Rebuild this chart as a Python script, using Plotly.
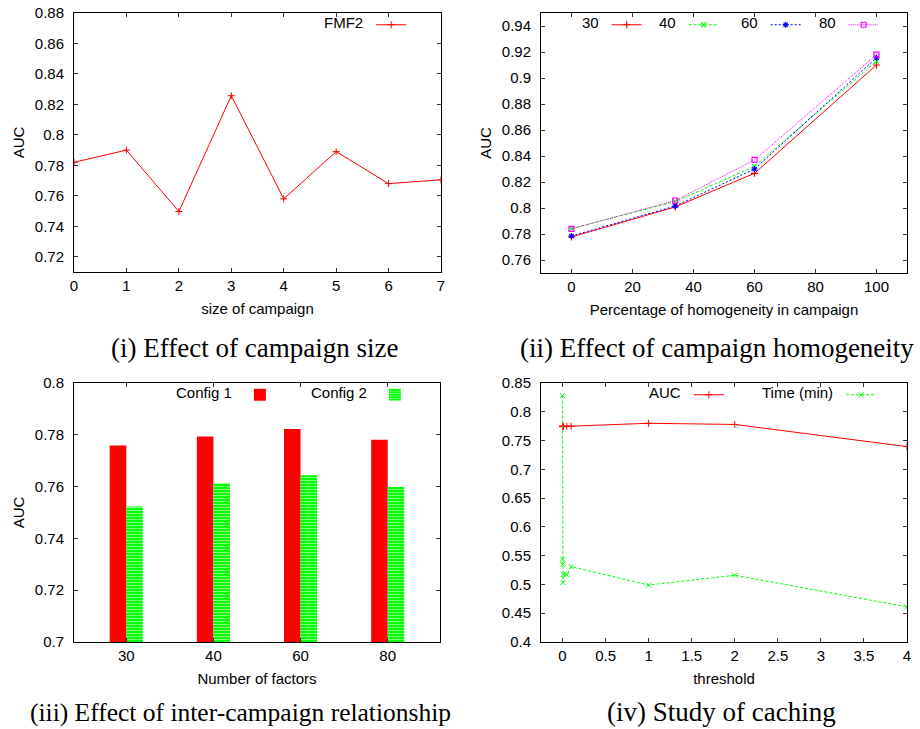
import plotly.graph_objects as go

# ---------------- data ----------------
campaign_size = [0, 1, 2, 3, 4, 5, 6, 7]
auc_size = [0.782, 0.790, 0.7497, 0.8257, 0.758, 0.789, 0.768, 0.7705]

homogeneity = [0, 34, 60, 100]
auc_h30 = [0.7777, 0.8008, 0.8267, 0.910]
auc_h40 = [0.7841, 0.8050, 0.8320, 0.913]
auc_h60 = [0.7785, 0.8015, 0.8300, 0.9156]
auc_h80 = [0.7840, 0.8057, 0.8370, 0.918]

factors = ["30", "40", "60", "80"]
config1 = [0.7759, 0.7793, 0.7822, 0.7781]
config2 = [0.7523, 0.7613, 0.7644, 0.7598]

thresholds = [0, 0.0001, 0.001, 0.005, 0.01, 0.05, 0.1, 1, 2, 4]
auc_cache = [0.775, 0.7745, 0.775, 0.774, 0.7745, 0.7748, 0.775, 0.780, 0.778, 0.7395]
time_cache = [0.828, 0.544, 0.535, 0.5035, 0.5175, 0.517, 0.531, 0.499, 0.516, 0.461]

captions = ["(i) Effect of campaign size", "(ii) Effect of campaign homogeneity",
            "(iii) Effect of inter-campaign relationship", "(iv) Study of caching"]

# ---------------- layout helpers ----------------
W, H = 920, 729
SANS = "Liberation Sans, Arial, sans-serif"
SERIF = "Liberation Serif, Times New Roman, serif"
RED, GREEN, BLUE, MAG = "#ff0000", "#00ff00", "#0000ff", "#ff00ff"


def px(x):
    return x / W


def py(y):
    return 1 - y / H


def xd(l, r):
    return [px(l), px(r)]


def yd(t, b):
    return [py(b), py(t)]


def axis(domain, anchor, rng, dtick, title="", standoff=6, **kw):
    d = dict(domain=domain, anchor=anchor, range=rng, dtick=dtick, tick0=0,
             showline=True, linecolor="black", linewidth=1, mirror="allticks",
             ticks="inside", ticklen=4, tickcolor="#333333", showgrid=False,
             zeroline=False, automargin=False,
             tickfont=dict(family=SANS, size=15, color="black"),
             title=dict(text=title, font=dict(family=SANS, size=15, color="black"),
                        standoff=standoff))
    d.update(kw)
    return d


def leg(title, x_px, y_px):
    return dict(title=dict(text=title, side="left",
                           font=dict(family=SANS, size=15, color="black")),
                x=px(x_px), y=py(y_px), xanchor="left", yanchor="middle",
                orientation="h", bgcolor="rgba(0,0,0,0)", borderwidth=0,
                font=dict(family=SANS, size=15, color="black"),
                itemwidth=30, tracegroupgap=0)


fig = go.Figure()

# Panel (i)
fig.add_trace(go.Scatter(x=campaign_size, y=auc_size, mode="lines+markers", name="",
                         line=dict(color=RED, width=1),
                         marker=dict(symbol="cross-thin-open", size=5,
                                     line=dict(color=RED, width=1)),
                         xaxis="x", yaxis="y", legend="legend", showlegend=True))

# Panel (ii)
h_series = [("30", auc_h30, RED, "solid", "cross-thin-open", "legend2"),
            ("40", auc_h40, GREEN, "3px,2px", "x-thin-open", "legend3"),
            ("60", auc_h60, BLUE, "2px,2px", "asterisk-open", "legend4"),
            ("80", auc_h80, MAG, "1px,1px", "square-open", "legend5")]
for nm, vals, col, dash, sym, lg in h_series:
    fig.add_trace(go.Scatter(x=homogeneity, y=vals, mode="lines+markers", name="",
                             line=dict(color=col, width=1, dash=dash),
                             marker=dict(symbol=sym, size=5, color=col,
                                         line=dict(color=col, width=1.2)),
                             xaxis="x2", yaxis="y2", legend=lg))

# Panel (iii)
fig.add_trace(go.Bar(x=factors, y=config1, name="", marker=dict(color=RED, line=dict(width=0)),
                     xaxis="x3", yaxis="y3", legend="legend6", offsetgroup="1"))
fig.add_trace(go.Bar(x=factors, y=config2, name="",
                     marker=dict(color=GREEN, line=dict(width=0),
                                 pattern=dict(shape="-", fillmode="overlay", fgcolor="white",
                                              size=3, solidity=0.35)),
                     xaxis="x3", yaxis="y3", legend="legend7", offsetgroup="2"))

# Panel (iv)
fig.add_trace(go.Scatter(x=thresholds, y=auc_cache, mode="lines+markers", name="",
                         line=dict(color=RED, width=1),
                         marker=dict(symbol="cross-thin-open", size=5,
                                     line=dict(color=RED, width=1)),
                         xaxis="x4", yaxis="y4", legend="legend8"))
fig.add_trace(go.Scatter(x=thresholds, y=time_cache, mode="lines+markers", name="",
                         line=dict(color=GREEN, width=1, dash="3px,2px"),
                         marker=dict(symbol="x-thin-open", size=5,
                                     line=dict(color=GREEN, width=1)),
                         xaxis="x4", yaxis="y4", legend="legend9"))

annotations = []
cap_pos = [(254, 348, 27), (717, 348, 27), (240, 712, 25.5), (721, 712, 27)]
for txt, (cx, cy, fs) in zip(captions, cap_pos):
    annotations.append(dict(text=txt, x=px(cx), y=py(cy), xref="paper", yref="paper",
                            xanchor="center", yanchor="middle", showarrow=False,
                            font=dict(family=SERIF, size=fs, color="black")))

fig.update_layout(
    width=W, height=H, margin=dict(l=0, r=0, t=0, b=0, autoexpand=False),
    paper_bgcolor="white", plot_bgcolor="white", showlegend=True,
    barmode="group", bargap=0.62, bargroupgap=0,
    xaxis=axis(xd(74, 441), "y", [0, 7], 1, "size of campaign", standoff=10),
    yaxis=axis(yd(13, 272), "x", [0.71, 0.88], 0.02, "AUC", ticklabelstandoff=6),
    xaxis2=axis(xd(541, 907), "y2", [-10, 110], 20, "Percentage of homogeneity in campaign",
                standoff=10),
    yaxis2=axis(yd(13, 273), "x2", [0.75, 0.95], 0.02, "AUC", ticklabelstandoff=6),
    xaxis3=axis(xd(74, 440), "y3", [-0.6, 3.6], None, "Number of factors", standoff=10,
                type="category"),
    yaxis3=axis(yd(383, 642), "x3", [0.7, 0.8], 0.02, "AUC", ticklabelstandoff=6),
    xaxis4=axis(xd(541, 907), "y4", [-0.25, 4], 0.5, "threshold", standoff=10),
    yaxis4=axis(yd(383, 642), "x4", [0.4, 0.85], 0.05, "", ticklabelstandoff=6),
    legend=leg("FMF2", 322, 25),
    legend2=leg("30", 580, 25),
    legend3=leg("40", 657, 25),
    legend4=leg("60", 739, 25),
    legend5=leg("80", 817, 25),
    legend6=leg("Config 1", 174, 395),
    legend7=leg("Config 2", 309, 395),
    legend8=leg("AUC", 647, 395),
    legend9=leg("Time (min)", 760, 395),
    annotations=annotations,
)

fig.write_html("out.html")
